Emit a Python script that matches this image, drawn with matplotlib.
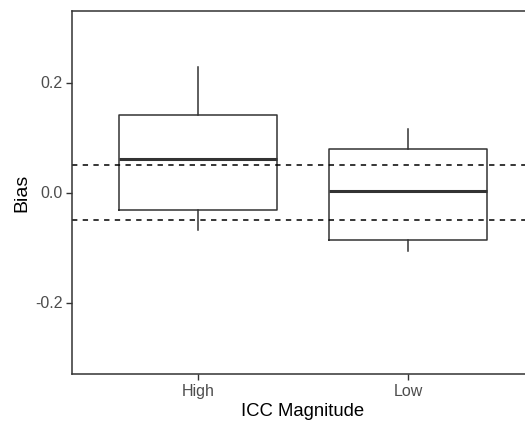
import numpy as np
import matplotlib.pyplot as plt

plt.rcParams['font.family'] = ['Liberation Sans', 'DejaVu Sans']

# box stats
groups = ["High", "Low"]
q1 = [-0.032, -0.087]
med = [0.061, 0.002]
q3 = [0.141, 0.079]
whislo = [-0.069, -0.106]
whishi = [0.229, 0.115]
band = [-0.05, 0.05]

stats = []
for i, g in enumerate(groups):
    stats.append(dict(label=g, q1=q1[i], med=med[i], q3=q3[i],
                      whislo=whislo[i], whishi=whishi[i], fliers=[]))

fig = plt.figure(figsize=(5.25, 4.25), dpi=100)
ax = fig.add_axes([72/525, 51/425, 462/525, 363/425])

ax.bxp(stats, positions=[1, 2], widths=0.75, showcaps=False,
       boxprops=dict(color='#333333', linewidth=1.1),
       whiskerprops=dict(color='#333333', linewidth=1.1),
       medianprops=dict(color='#333333', linewidth=2.2))

for b in band:
    ax.axhline(b, color='black', linestyle=(0, (3.5, 3.5)), linewidth=1.1)

ax.set_xlim(0.4, 2.6)
ax.set_ylim(-0.33, 0.33)
ax.set_yticks([-0.2, 0.0, 0.2])
ax.set_yticklabels(['-0.2', '0.0', '0.2'])
ax.set_xticks([1, 2])
ax.set_xticklabels(groups)
ax.tick_params(colors='#333333', labelcolor='#4D4D4D', labelsize=11.5,
               length=4, width=1, pad=3)
for s in ax.spines.values():
    s.set_color('#333333')
    s.set_linewidth(1.1)

ax.set_xlabel('ICC Magnitude', fontsize=13.3, labelpad=3)
ax.set_ylabel('Bias', fontsize=14, labelpad=3)

plt.savefig('out.png', dpi=100)
